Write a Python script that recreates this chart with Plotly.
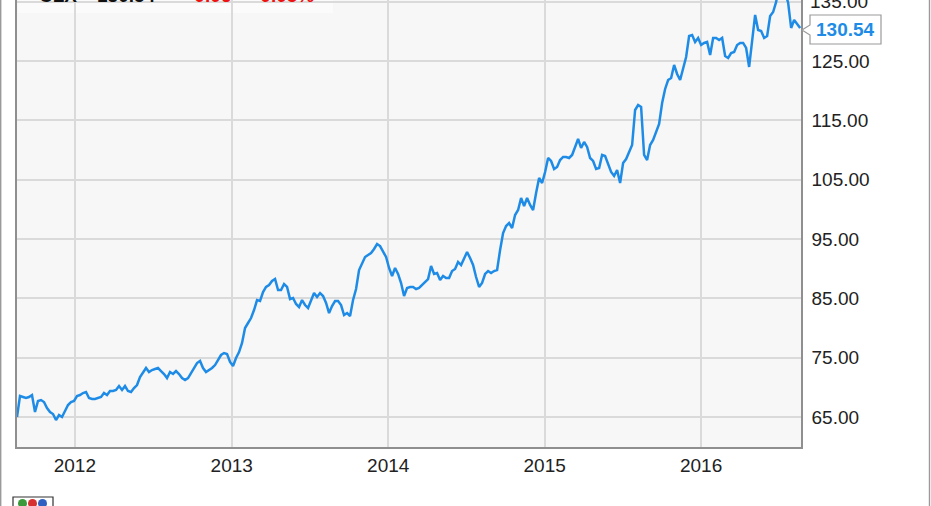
import pandas as pd
import plotly.graph_objects as go

# ---- data (weekly closes) ----
start_date = "2011-08-19"
prices = [
    65.00, 68.54, 68.37, 68.20, 68.37, 68.71, 65.84, 67.70, 67.86, 67.53,
    66.52, 65.84, 65.51, 64.49, 65.34, 65.00, 66.01, 67.02, 67.53, 67.70,
    68.54, 68.71, 69.04, 69.21, 68.20, 68.03, 68.03, 68.20, 68.37, 69.04,
    68.71, 69.38, 69.38, 69.55, 70.22, 69.55, 70.22, 69.38, 69.21, 69.89,
    70.39, 71.74, 72.58, 73.26, 72.58, 72.92, 73.09, 73.26, 72.75, 72.25,
    71.57, 72.58, 72.25, 72.75, 72.25, 71.57, 71.23, 71.57, 72.41, 73.26,
    74.10, 74.44, 73.26, 72.58, 72.92, 73.26, 73.76, 74.60, 75.45, 75.78,
    75.62, 74.27, 73.59, 74.94, 75.95, 77.47, 80.00, 80.84, 81.68, 83.03,
    84.71, 84.55, 86.06, 86.91, 87.24, 87.92, 88.25, 86.40, 86.40, 87.41,
    86.91, 84.88, 85.05, 84.04, 83.54, 84.71, 83.87, 83.37, 84.71, 85.89,
    85.22, 85.89, 85.39, 84.21, 82.52, 83.70, 84.55, 84.55, 83.87, 82.19,
    82.52, 82.02, 84.71, 86.57, 89.77, 90.95, 91.96, 92.30, 92.63, 93.31,
    94.15, 93.81, 92.97, 91.96, 90.11, 88.76, 90.11, 89.10, 87.58, 85.39,
    86.74, 86.91, 86.91, 86.57, 86.74, 87.24, 87.75, 88.25, 90.44, 89.10,
    89.26, 88.08, 88.76, 88.42, 88.42, 89.60, 89.94, 91.12, 90.61, 91.79,
    92.80, 91.79, 90.61, 88.59, 86.91, 87.58, 89.10, 89.60, 89.26, 89.60,
    89.77, 93.14, 96.00, 97.18, 97.69, 96.85, 99.04, 99.88, 101.90, 100.55,
    101.90, 100.72, 99.88, 102.74, 105.27, 104.43, 106.28, 108.64, 108.14, 106.79,
    107.13, 108.30, 108.81, 108.81, 108.64, 109.15, 110.50, 111.84, 110.33, 111.34,
    110.50, 108.64, 108.14, 106.79, 106.96, 109.15, 108.98, 107.46, 106.28, 105.61,
    106.62, 104.43, 107.80, 108.47, 109.65, 110.83, 116.73, 117.57, 117.24, 109.15,
    108.30, 110.83, 111.67, 113.19, 114.37, 117.91, 120.27, 121.78, 122.12, 124.31,
    122.80, 121.78, 123.98, 125.66, 129.20, 129.37, 128.19, 128.86, 127.68, 128.02,
    128.19, 126.00, 128.86, 128.86, 128.52, 128.86, 125.83, 125.49, 126.33, 126.50,
    127.68, 128.02, 128.02, 127.18, 123.98, 128.86, 132.74, 130.21, 130.04, 128.86,
    129.20, 132.57, 133.24, 134.93, 137.80, 138.20, 136.60, 134.80, 130.55, 131.89,
    131.22, 130.54,
]
dates = pd.date_range(start_date, periods=len(prices), freq="7D")

ticker = "CLX"
change = "-0.06"
change_pct = "-0.05%"
y_ticks = [65, 75, 85, 95, 105, 115, 125, 135]
x_ticks = ["2012-01-01", "2013-01-01", "2014-01-01", "2015-01-01", "2016-01-01"]
x_tick_labels = ["2012", "2013", "2014", "2015", "2016"]

# ---- layout geometry ----
W, H = 931, 506
L, R, T, B = 17, 130, 0, 59
PW, PH = W - L - R, H - T - B


def pxx(x):
    return (x - L) / PW


def pxy(y):
    return (H - B - y) / PH


LINE_BLUE = "#1e8ce6"
FONT = "Liberation Sans, Arial, sans-serif"

fig = go.Figure()
fig.add_trace(go.Scatter(
    x=dates, y=prices, mode="lines",
    line=dict(color=LINE_BLUE, width=2.5),
    hoverinfo="skip", showlegend=False,
))

shapes = [
    # header box (cut off at top)
    dict(type="rect", xref="paper", yref="paper", x0=pxx(18), x1=pxx(333),
         y0=pxy(13), y1=pxy(-2), fillcolor="#fbfbfb", line=dict(width=0), layer="below"),
    # outer frame lines
    dict(type="line", xref="paper", yref="paper", x0=pxx(0.7), x1=pxx(0.7),
         y0=pxy(0), y1=pxy(H), line=dict(color="#9a9a9a", width=1.4)),
    dict(type="line", xref="paper", yref="paper", x0=pxx(929.5), x1=pxx(929.5),
         y0=pxy(0), y1=pxy(H), line=dict(color="#9a9a9a", width=1.4)),
    # callout for last value
    dict(type="path", xref="paper", yref="paper",
         path=(f"M {pxx(802)},{pxy(30)} L {pxx(810)},{pxy(25)} L {pxx(810)},{pxy(15)} "
               f"L {pxx(881)},{pxy(15)} L {pxx(881)},{pxy(44)} L {pxx(810)},{pxy(44)} "
               f"L {pxx(810)},{pxy(35)} Z"),
         fillcolor="white", line=dict(color="#9a9a9a", width=1.2)),
    # small logo at bottom left
    dict(type="rect", xref="paper", yref="paper", x0=pxx(13), x1=pxx(53),
         y0=pxy(508), y1=pxy(497), fillcolor="#ffffff", line=dict(color="#333333", width=1.2)),
    dict(type="circle", xref="paper", yref="paper", x0=pxx(18), x1=pxx(27),
         y0=pxy(508), y1=pxy(499), fillcolor="#3a9a3a", line=dict(width=0)),
    dict(type="circle", xref="paper", yref="paper", x0=pxx(28), x1=pxx(37),
         y0=pxy(508), y1=pxy(499), fillcolor="#d63030", line=dict(width=0)),
    dict(type="circle", xref="paper", yref="paper", x0=pxx(38), x1=pxx(47),
         y0=pxy(508), y1=pxy(499), fillcolor="#2f5fc0", line=dict(width=0)),
]

hdr_y = pxy(8.5)
annotations = [
    dict(xref="paper", yref="paper", x=pxx(845.5), y=pxy(29.5), text=f"<b>{prices[-1]:.2f}</b>",
         showarrow=False, xanchor="center", yanchor="middle",
         font=dict(family=FONT, size=19, color=LINE_BLUE)),
    # top tick label (sits on the upper edge, partly cut like the reference)
    dict(xref="paper", yref="y", x=pxx(809), y=y_ticks[-1], text=f"{y_ticks[-1]:.2f}",
         showarrow=False, xanchor="left", yanchor="middle", borderpad=0,
         font=dict(family=FONT, size=19, color="#222222")),
    dict(xref="paper", yref="paper", x=pxx(37), y=hdr_y, text=f"<b>{ticker}</b>",
         showarrow=False, xanchor="left", yanchor="bottom",
         font=dict(family=FONT, size=19, color="#111111")),
    dict(xref="paper", yref="paper", x=pxx(95), y=hdr_y, text=f"<b>{prices[-1]:.2f}</b>",
         showarrow=False, xanchor="left", yanchor="bottom",
         font=dict(family=FONT, size=19, color="#111111")),
    dict(xref="paper", yref="paper", x=pxx(186), y=hdr_y, text=f"<b>{change}</b>",
         showarrow=False, xanchor="left", yanchor="bottom",
         font=dict(family=FONT, size=19, color="#ee1111")),
    dict(xref="paper", yref="paper", x=pxx(252), y=hdr_y, text=f"<b>{change_pct}</b>",
         showarrow=False, xanchor="left", yanchor="bottom",
         font=dict(family=FONT, size=19, color="#ee1111")),
]

fig.update_layout(
    width=W, height=H,
    margin=dict(l=L, r=R, t=T, b=B, pad=0),
    paper_bgcolor="white", plot_bgcolor="#f7f7f7",
    font=dict(family=FONT, size=19, color="#222222"),
    shapes=shapes, annotations=annotations,
    xaxis=dict(
        range=["2011-08-19", "2016-08-21"],
        tickvals=x_ticks, ticktext=x_tick_labels,
        showgrid=True, gridcolor="#dadada", gridwidth=1.5,
        showline=True, linecolor="#8f8f8f", linewidth=1.5,
        ticks="", zeroline=False, fixedrange=True,
    ),
    yaxis=dict(
        side="right", range=[59.95, 135.26],
        tickvals=y_ticks, tickformat=".2f",
        showgrid=True, gridcolor="#dadada", gridwidth=1.5,
        showline=True, linecolor="#8f8f8f", linewidth=1.5, mirror=True,
        ticks="outside", ticklen=5, tickcolor="rgba(0,0,0,0)",
        zeroline=False, fixedrange=True,
    ),
)

fig.write_html(
    "out.html",
    config={"displayModeBar": False},
    post_script="document.body.style.margin='0';document.body.style.overflow='hidden';",
)
